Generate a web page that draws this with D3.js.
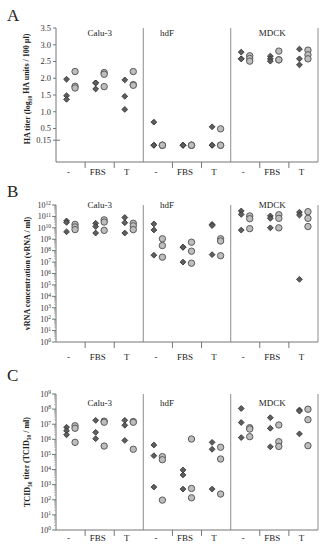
<!DOCTYPE html>
<html>
<head>
<meta charset="utf-8">
<script src="https://cdn.jsdelivr.net/npm/d3@7"></script>
<style>
  body { margin: 0; background: #fff; }
  svg { display: block; font-family: 'Liberation Serif', 'DejaVu Serif', serif; }
</style>
</head>
<body>
<svg id="chart" width="324" height="550"></svg>
<script>
let cellTypes = ['Calu-3', 'hdF', 'MDCK']
let treatments = ['-', 'FBS', 'T']

// one entry per cell type x treatment (Calu-3 -, FBS, T, hdF -, ...)
let haDiamond = [
  [1.97, 1.48, 1.37], [1.86, 1.86, 1.68], [1.95, 1.46, 1.07],
  [0.69, 0, 0], [0, 0, 0], [0.55, 0, 0],
  [2.78, 2.58, 2.58], [2.66, 2.58, 2.51], [2.87, 2.58, 2.40]
]
let haCircle = [
  [2.20, 1.76, 1.71], [2.17, 2.12, 1.75], [2.20, 1.81, 1.79],
  [0, 0, 0], [0, 0, 0], [0.49, 0, 0],
  [2.67, 2.59, 2.51], [2.81, 2.55, 2.55], [2.84, 2.70, 2.58]
]
let rnaDiamond = [
  [4e10, 3e10, 4.5e9], [2.5e10, 1.3e10, 3.5e9], [8e10, 2.8e10, 3.5e9],
  [2.2e10, 6.5e9, 4e7], [2e8, 2e8, 1e7], [2e10, 1.6e10, 4.5e7],
  [3e11, 1.5e11, 6.3e9], [1.1e11, 6.8e10, 1e10], [2.3e11, 1.3e11, 3.1e5]
]
let rnaCircle = [
  [2e10, 1.2e10, 7e9], [5e10, 3.2e10, 6e9], [2.5e10, 1.5e10, 7e9],
  [1.1e9, 2.8e8, 2.7e7], [5.5e8, 9e7, 8e6], [1.1e9, 7e8, 3.6e7],
  [1.1e11, 6.3e10, 8.5e9], [1.4e11, 6.8e10, 1e10], [2.6e11, 6.8e10, 1.3e10]
]
let tcidDiamond = [
  [6.3e6, 3.7e6, 2e6], [1.8e7, 2.9e6, 1.1e6], [1.8e7, 8.5e6, 8.5e5],
  [4.2e5, 8.3e4, 690], [9.3e3, 4.4e3, 510], [6.3e5, 2.2e5, 510],
  [1.1e8, 1.3e7, 1.3e6], [2.7e7, 5.4e6, 3.2e5], [8.7e7, 7.4e7, 2.3e6]
]
let tcidCircle = [
  [7.9e6, 5.4e6, 6.3e5], [1.6e7, 1.35e7, 3.6e5], [1.5e7, 1.35e7, 2.2e5],
  [7.1e4, 4.5e4, 95], [1.05e6, 560, 135], [3e5, 5e4, 240],
  [5.9e6, 4.8e6, 1.5e6], [8.9e6, 6.9e5, 3.4e5], [9.8e7, 2e7, 3.8e5]
]
let haTicks = [0.15, 0.5, 1.0, 1.5, 2.0, 2.5, 3.0, 3.5]

let svg = d3.select('#chart')

let groups = []
cellTypes.forEach(c => treatments.forEach(t => groups.push(c + '|' + t)))

let x = d3.scaleBand()
  .domain(groups)
  .range([56, 318])

let cellX = d3.scaleBand()
  .domain(cellTypes)
  .range([56, 318])

let panels = [
  {
    letter: 'A', letterY: 21, top: 28, bottom: 162,
    y: d3.scaleLinear().domain([-0.5, 3.5]).range([162, 28]),
    diamonds: haDiamond, circles: haCircle, log: false,
    labelY: 36, tickY: 175,
    title: ['HA titer (log', '10', ' HA units / 100 µl)']
  },
  {
    letter: 'B', letterY: 197, top: 205, bottom: 342,
    y: d3.scaleLog().domain([1, 1e12]).range([342, 205]),
    diamonds: rnaDiamond, circles: rnaCircle, log: true,
    labelY: 208, tickY: 360,
    title: ['vRNA concentration (vRNA / ml)']
  },
  {
    letter: 'C', letterY: 381, top: 394, bottom: 530,
    y: d3.scaleLog().domain([1, 1e9]).range([530, 394]),
    diamonds: tcidDiamond, circles: tcidCircle, log: true,
    labelY: 406, tickY: 541,
    title: ['TCID', '50', ' titer (TCID', '50', ' / ml)']
  }
]

let diamond = d3.symbol().type(d3.symbolSquare).size(17)

panels.forEach(p => {
  let g = svg.append('g')
  let y = p.y

  g.append('text')
    .attr('x', 7).attr('y', p.letterY)
    .style('font-size', '17px')
    .attr('fill', '#222')
    .text(p.letter)

  // dividers and right border
  cellTypes.slice(1).forEach(c => {
    g.append('line')
      .attr('x1', cellX(c)).attr('x2', cellX(c))
      .attr('y1', p.top).attr('y2', p.bottom)
      .attr('stroke', '#a0a0a0').attr('stroke-width', 1.2)
  })
  g.append('line')
    .attr('x1', 318).attr('x2', 318)
    .attr('y1', p.top).attr('y2', p.bottom)
    .attr('stroke', '#a0a0a0').attr('stroke-width', 1.2)

  // y axis
  g.append('line')
    .attr('x1', 56).attr('x2', 56)
    .attr('y1', p.top).attr('y2', p.bottom)
    .attr('stroke', '#777')

  if (!p.log) {
    haTicks.forEach(t => {
      g.append('line')
        .attr('x1', 53).attr('x2', t === 0.15 ? 60 : 56)
        .attr('y1', y(t)).attr('y2', y(t))
        .attr('stroke', '#777')
      g.append('text')
        .attr('x', 51).attr('y', y(t)).attr('dy', '0.35em')
        .attr('text-anchor', 'end')
        .style('font-size', '8.5px').attr('fill', '#333')
        .text(t === 0.15 ? '0.15' : d3.format('.1f')(t))
    })
  } else {
    let maxExp = Math.round(Math.log10(y.domain()[1]))
    d3.range(0, maxExp + 1).forEach(e => {
      g.append('line')
        .attr('x1', 52).attr('x2', 56)
        .attr('y1', y(10 ** e)).attr('y2', y(10 ** e))
        .attr('stroke', '#777')
      let lab = g.append('text')
        .attr('x', 51).attr('y', y(10 ** e)).attr('dy', '0.35em')
        .attr('text-anchor', 'end')
        .style('font-size', '8px').attr('fill', '#333')
      lab.append('tspan').text('10')
      lab.append('tspan').attr('dy', '-0.45em').style('font-size', '5.5px').text(e)
      if (e < maxExp) {
        d3.range(2, 10).forEach(k => {
          g.append('line')
            .attr('x1', 54).attr('x2', 56)
            .attr('y1', y(k * 10 ** e)).attr('y2', y(k * 10 ** e))
            .attr('stroke', '#999').attr('stroke-width', 0.6)
        })
      }
    })
  }

  // x axis
  g.append('line')
    .attr('x1', 56).attr('x2', 318)
    .attr('y1', p.bottom).attr('y2', p.bottom)
    .attr('stroke', '#777')
  groups.forEach((k, i) => {
    if (i % 3 !== 0) {
      g.append('line')
        .attr('x1', x(k)).attr('x2', x(k))
        .attr('y1', p.bottom).attr('y2', p.bottom + 6)
        .attr('stroke', '#777')
    }
    g.append('text')
      .attr('x', x(k) + x.bandwidth() / 2 - 2)
      .attr('y', p.tickY)
      .attr('text-anchor', 'middle')
      .style('font-size', '9px').attr('fill', '#222')
      .text(k.split('|')[1])
  })

  // cell type labels
  let labelShift = { 'Calu-3': 0, 'hdF': -20, 'MDCK': -2 }
  cellTypes.forEach(c => {
    g.append('text')
      .attr('x', cellX(c) + cellX.bandwidth() / 2 + labelShift[c])
      .attr('y', p.labelY)
      .attr('text-anchor', 'middle')
      .style('font-size', '9px').attr('fill', '#222')
      .text(c)
  })

  // y title
  let mid = (p.top + p.bottom) / 2 - (p.letter === 'A' ? 6 : 0)
  let title = g.append('text')
    .attr('transform', `translate(30,${mid}) rotate(-90)`)
    .attr('text-anchor', 'middle')
    .style('font-size', '8px').style('font-weight', 'bold').attr('fill', '#222')
  p.title.forEach((s, i) => {
    let sub = (i % 2 === 1)
    title.append('tspan')
      .attr('dy', sub ? '0.3em' : (i > 0 ? '-0.3em' : 0))
      .style('font-size', sub ? '5.5px' : '8px')
      .text(s)
  })

  // points
  groups.forEach((k, i) => {
    let cx = x(k) + x.bandwidth() / 2
    g.selectAll(null)
      .data(p.diamonds[i])
      .join('path')
      .attr('d', diamond)
      .attr('transform', d => `translate(${cx - 4},${y(d)}) rotate(45)`)
      .attr('fill', '#5e5e5e')
      .attr('stroke', '#333')
      .attr('stroke-width', 0.8)
    g.selectAll(null)
      .data(p.circles[i])
      .join('circle')
      .attr('cx', cx + 4.5)
      .attr('cy', d => y(d))
      .attr('r', 3.2)
      .attr('fill', '#bdbdbd')
      .attr('stroke', '#5a5a5a')
      .attr('stroke-width', 1)
  })
})
</script>
</body>
</html>
